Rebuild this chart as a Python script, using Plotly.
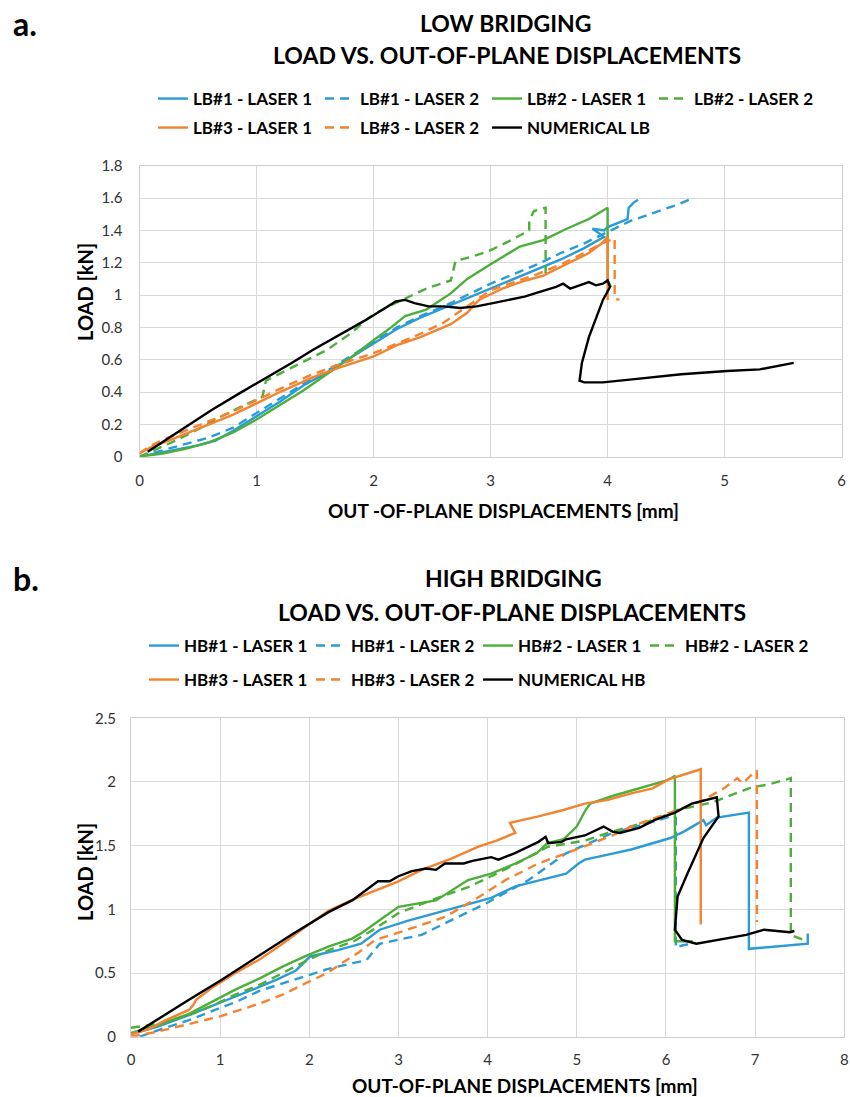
import plotly.graph_objects as go

# ---------------- DATA : panel a (Low bridging) ----------------
lb1_l1_x = [0, 0.15, 0.3, 0.5, 0.65, 0.8, 1.0, 1.2, 1.4, 1.6, 1.8, 2.0, 2.2, 2.4, 2.6, 2.8, 3.0, 3.2, 3.4, 3.6, 3.8, 3.97, 3.87, 3.97, 4.0, 4.1, 4.17, 4.18, 4.22, 4.26]
lb1_l1_y = [0.0, 0.02, 0.04, 0.07, 0.10, 0.16, 0.25, 0.34, 0.44, 0.52, 0.61, 0.70, 0.79, 0.86, 0.92, 0.98, 1.04, 1.10, 1.16, 1.22, 1.29, 1.36, 1.41, 1.40, 1.42, 1.45, 1.47, 1.54, 1.57, 1.59]

lb1_l2_x = [0, 0.2, 0.4, 0.6, 0.8, 1.0, 1.2, 1.4, 1.6, 1.8, 2.0, 2.2, 2.4, 2.6, 2.8, 3.0, 3.2, 3.4, 3.6, 3.8, 4.0, 4.2, 4.4, 4.6, 4.7]
lb1_l2_y = [0, 0.04, 0.08, 0.12, 0.18, 0.27, 0.36, 0.45, 0.53, 0.62, 0.71, 0.80, 0.87, 0.93, 1.00, 1.07, 1.13, 1.19, 1.26, 1.32, 1.39, 1.46, 1.51, 1.56, 1.59]

lb2_l1_x = [0, 0.2, 0.4, 0.6, 0.8, 1.0, 1.2, 1.4, 1.6, 1.8, 2.0, 2.15, 2.27, 2.45, 2.66, 2.8, 3.0, 3.25, 3.45, 3.65, 3.84, 4.0, 4.0, 4.03]
lb2_l1_y = [0, 0.02, 0.05, 0.09, 0.15, 0.23, 0.32, 0.41, 0.51, 0.61, 0.72, 0.80, 0.87, 0.91, 1.01, 1.10, 1.19, 1.30, 1.34, 1.41, 1.47, 1.54, 1.09, 1.05]

lb2_l2_x = [0, 0.15, 0.31, 0.5, 0.7, 0.9, 1.05, 1.08, 1.3, 1.6, 1.8, 1.96, 2.1, 2.27, 2.45, 2.66, 2.7, 2.85, 2.98, 3.15, 3.33, 3.33, 3.37, 3.47, 3.47, 3.5]
lb2_l2_y = [0, 0.05, 0.10, 0.17, 0.25, 0.32, 0.37, 0.47, 0.55, 0.66, 0.76, 0.86, 0.92, 0.98, 1.04, 1.09, 1.21, 1.24, 1.27, 1.33, 1.40, 1.46, 1.52, 1.54, 1.14, 1.12]

lb3_l1_x = [0, 0.1, 0.25, 0.42, 0.6, 0.8, 1.0, 1.2, 1.48, 1.7, 2.0, 2.2, 2.4, 2.66, 2.8, 2.9, 3.1, 3.3, 3.45, 3.65, 3.84, 3.95, 4.0, 4.0]
lb3_l1_y = [0.02, 0.06, 0.10, 0.15, 0.20, 0.26, 0.33, 0.40, 0.49, 0.55, 0.62, 0.69, 0.74, 0.82, 0.89, 0.97, 1.04, 1.09, 1.12, 1.19, 1.26, 1.32, 1.36, 0.97]

lb3_l2_x = [0, 0.1, 0.25, 0.42, 0.6, 0.8, 1.0, 1.2, 1.48, 1.7, 2.0, 2.2, 2.4, 2.6, 2.8, 3.0, 3.2, 3.4, 3.6, 3.8, 3.95, 4.06, 4.06, 4.1]
lb3_l2_y = [0.02, 0.07, 0.12, 0.17, 0.22, 0.28, 0.35, 0.42, 0.51, 0.57, 0.64, 0.70, 0.76, 0.83, 0.93, 1.03, 1.08, 1.13, 1.19, 1.26, 1.32, 1.35, 0.98, 0.97]

num_lb_x = [0.07, 0.3, 0.62, 0.85, 1.09, 1.3, 1.48, 1.7, 1.92, 2.1, 2.19, 2.27, 2.35, 2.47, 2.6, 2.74, 2.88, 3.02, 3.15, 3.29, 3.42, 3.56, 3.62, 3.68, 3.76, 3.84, 3.9, 3.96, 4.0, 4.02, 3.96, 3.84, 3.78, 3.76, 3.8, 3.96, 4.23, 4.63, 5.02, 5.3, 5.59]
num_lb_y = [0.03, 0.14, 0.29, 0.39, 0.49, 0.58, 0.66, 0.75, 0.84, 0.92, 0.96, 0.97, 0.95, 0.93, 0.93, 0.92, 0.93, 0.95, 0.97, 0.99, 1.02, 1.05, 1.07, 1.04, 1.06, 1.08, 1.06, 1.07, 1.09, 1.05, 0.97, 0.74, 0.58, 0.47, 0.46, 0.46, 0.48, 0.51, 0.53, 0.54, 0.58]

# ---------------- DATA : panel b (High bridging) ----------------
hb1_l1_x = [0, 0.3, 0.65, 0.9, 1.17, 1.4, 1.64, 1.85, 2.01, 2.32, 2.58, 2.79, 3.1, 3.52, 3.8, 4.04, 4.31, 4.6, 4.88, 5.02, 5.09, 5.35, 5.61, 6.05, 6.2, 6.42, 6.45, 6.57, 6.91, 6.93, 6.93, 7.59, 7.59]
hb1_l1_y = [0.02, 0.08, 0.17, 0.24, 0.31, 0.38, 0.45, 0.52, 0.63, 0.68, 0.73, 0.84, 0.91, 0.99, 1.04, 1.09, 1.18, 1.23, 1.28, 1.36, 1.39, 1.43, 1.47, 1.56, 1.61, 1.70, 1.66, 1.72, 1.76, 1.76, 0.69, 0.73, 0.81]

hb1_l2_x = [0.1, 0.3, 0.65, 0.9, 1.2, 1.44, 1.7, 1.96, 2.2, 2.5, 2.64, 2.79, 3.26, 3.52, 3.76, 3.99, 4.2, 4.46, 4.88, 5.4, 5.87, 6.05, 6.11, 6.11, 6.2, 6.29]
hb1_l2_y = [0.0, 0.05, 0.13, 0.20, 0.28, 0.36, 0.42, 0.48, 0.53, 0.58, 0.60, 0.73, 0.80, 0.89, 0.97, 1.05, 1.13, 1.23, 1.44, 1.60, 1.69, 1.73, 1.72, 0.70, 0.72, 0.73]

hb2_l1_x = [0, 0.3, 0.65, 0.9, 1.17, 1.45, 1.7, 1.95, 2.22, 2.48, 2.6, 2.74, 3.0, 3.42, 3.78, 4.04, 4.31, 4.55, 4.67, 4.85, 5.0, 5.09, 5.15, 5.4, 5.7, 6.0, 6.06, 6.1, 6.1, 6.3]
hb2_l1_y = [0.03, 0.09, 0.18, 0.27, 0.37, 0.46, 0.55, 0.63, 0.71, 0.77, 0.82, 0.89, 1.02, 1.07, 1.23, 1.28, 1.36, 1.44, 1.52, 1.55, 1.65, 1.77, 1.83, 1.89, 1.95, 2.01, 2.03, 2.05, 0.75, 0.75]

hb2_l2_x = [0, 0.3, 0.65, 0.9, 1.17, 1.45, 1.7, 1.95, 2.22, 2.5, 2.74, 3.0, 3.4, 3.8, 4.04, 4.3, 4.67, 5.09, 5.35, 5.61, 5.9, 6.13, 6.52, 6.97, 7.15, 7.4, 7.4, 7.54]
hb2_l2_y = [0.07, 0.10, 0.17, 0.24, 0.33, 0.41, 0.50, 0.59, 0.68, 0.75, 0.85, 0.97, 1.08, 1.18, 1.26, 1.35, 1.49, 1.54, 1.60, 1.65, 1.71, 1.78, 1.84, 1.96, 1.98, 2.03, 0.80, 0.76]

hb3_l1_x = [0, 0.2, 0.39, 0.55, 0.65, 0.7, 0.73, 0.9, 1.17, 1.45, 1.7, 1.95, 2.22, 2.5, 2.74, 3.0, 3.26, 3.6, 3.89, 4.1, 4.31, 4.25, 4.57, 4.85, 5.09, 5.35, 5.61, 5.85, 6.03, 6.2, 6.39, 6.39]
hb3_l1_y = [0.02, 0.06, 0.13, 0.18, 0.21, 0.25, 0.29, 0.38, 0.50, 0.61, 0.73, 0.86, 0.99, 1.08, 1.15, 1.22, 1.31, 1.40, 1.49, 1.54, 1.60, 1.68, 1.73, 1.78, 1.83, 1.86, 1.91, 1.95, 2.02, 2.06, 2.10, 0.88]

hb3_l2_x = [0, 0.3, 0.65, 1.0, 1.44, 1.7, 1.96, 2.2, 2.37, 2.55, 2.74, 3.1, 3.52, 3.84, 4.2, 4.57, 5.07, 5.4, 5.61, 5.9, 6.13, 6.4, 6.65, 6.8, 6.86, 6.98, 7.02, 7.02]
hb3_l2_y = [0.0, 0.04, 0.10, 0.16, 0.26, 0.33, 0.42, 0.50, 0.58, 0.66, 0.76, 0.84, 0.94, 1.07, 1.23, 1.36, 1.49, 1.58, 1.65, 1.72, 1.78, 1.85, 1.95, 2.03, 1.99, 2.07, 2.09, 0.90]

num_hb_x = [0.08, 0.35, 0.65, 1.0, 1.44, 1.8, 2.22, 2.48, 2.77, 2.9, 3.0, 3.15, 3.31, 3.42, 3.52, 3.73, 3.83, 4.04, 4.12, 4.3, 4.57, 4.65, 4.68, 4.83, 4.88, 5.09, 5.3, 5.4, 5.48, 5.7, 5.87, 6.1, 6.29, 6.45, 6.57, 6.59, 6.42, 6.24, 6.13, 6.1, 6.18, 6.34, 6.65, 6.9, 7.1, 7.25, 7.39, 7.44]
num_hb_y = [0.04, 0.16, 0.29, 0.44, 0.64, 0.80, 0.98, 1.07, 1.22, 1.22, 1.26, 1.30, 1.32, 1.31, 1.36, 1.36, 1.38, 1.41, 1.39, 1.44, 1.53, 1.57, 1.52, 1.53, 1.55, 1.58, 1.65, 1.61, 1.60, 1.64, 1.70, 1.76, 1.83, 1.86, 1.88, 1.73, 1.56, 1.28, 1.10, 0.84, 0.76, 0.73, 0.77, 0.80, 0.84, 0.83, 0.82, 0.83]

# tick values
top_x_ticks = [0, 1, 2, 3, 4, 5, 6]
top_y_ticks = [0, 0.2, 0.4, 0.6, 0.8, 1, 1.2, 1.4, 1.6, 1.8]
bot_x_ticks = [0, 1, 2, 3, 4, 5, 6, 7, 8]
bot_y_ticks = [0, 0.5, 1, 1.5, 2, 2.5]

# ---------------- STYLE ----------------
W, H = 850, 1097
def px(p): return p / W
def py(p): return 1 - p / H

BLUE = '#2B9BD6'
GREEN = '#4CAF3A'
ORANGE = '#F5822E'
BLACK = '#000000'
FONT = 'Lato'
DASH = '9px,6px'
LW = 2.4

fig = go.Figure()

top_series = [
    ("LB#1 - LASER 1", lb1_l1_x, lb1_l1_y, BLUE, 'solid', 'legend'),
    ("LB#1 - LASER 2", lb1_l2_x, lb1_l2_y, BLUE, DASH, 'legend'),
    ("LB#2 - LASER 1", lb2_l1_x, lb2_l1_y, GREEN, 'solid', 'legend'),
    ("LB#2 - LASER 2", lb2_l2_x, lb2_l2_y, GREEN, DASH, 'legend'),
    ("LB#3 - LASER 1", lb3_l1_x, lb3_l1_y, ORANGE, 'solid', 'legend2'),
    ("LB#3 - LASER 2", lb3_l2_x, lb3_l2_y, ORANGE, DASH, 'legend2'),
    ("NUMERICAL LB", num_lb_x, num_lb_y, BLACK, 'solid', 'legend2'),
]
bot_series = [
    ("HB#1 - LASER 1", hb1_l1_x, hb1_l1_y, BLUE, 'solid', 'legend3'),
    ("HB#1 - LASER 2", hb1_l2_x, hb1_l2_y, BLUE, DASH, 'legend3'),
    ("HB#2 - LASER 1", hb2_l1_x, hb2_l1_y, GREEN, 'solid', 'legend3'),
    ("HB#2 - LASER 2", hb2_l2_x, hb2_l2_y, GREEN, DASH, 'legend3'),
    ("HB#3 - LASER 1", hb3_l1_x, hb3_l1_y, ORANGE, 'solid', 'legend4'),
    ("HB#3 - LASER 2", hb3_l2_x, hb3_l2_y, ORANGE, DASH, 'legend4'),
    ("NUMERICAL HB", num_hb_x, num_hb_y, BLACK, 'solid', 'legend4'),
]

for name, xs, ys, col, dash, leg in top_series:
    fig.add_trace(go.Scatter(x=xs, y=ys, mode='lines', name=name, legend=leg,
                             line=dict(color=col, width=LW, dash=dash),
                             xaxis='x', yaxis='y'))
for name, xs, ys, col, dash, leg in bot_series:
    fig.add_trace(go.Scatter(x=xs, y=ys, mode='lines', name=name, legend=leg,
                             line=dict(color=col, width=LW, dash=dash),
                             xaxis='x2', yaxis='y2'))

tickfont = dict(family=FONT, size=15, color='#333333')
grid = '#d9d9d9'
axis_common = dict(showgrid=True, gridcolor=grid, gridwidth=1, zeroline=False,
                   showline=True, linecolor='#cfcfcf', linewidth=1, mirror=True,
                   ticks='', tickfont=tickfont, fixedrange=True, automargin=False)

legfont = dict(family=FONT, size=17, color='#000000', weight='bold')
def leg(x, y):
    return dict(orientation='h', x=px(x), xanchor='left', y=py(y), yanchor='middle',
                font=legfont, entrywidth=122, entrywidthmode='pixels',
                bgcolor='rgba(0,0,0,0)', itemwidth=30)

fig.update_layout(
    width=W, height=H,
    margin=dict(l=0, r=0, t=0, b=0, pad=0, autoexpand=False),
    paper_bgcolor='white', plot_bgcolor='white',
    xaxis=dict(domain=[px(139.5), px(841.7)], range=[0, 6], tickvals=top_x_ticks,
               anchor='y', ticklabelstandoff=10, **axis_common),
    yaxis=dict(domain=[py(456.7), py(165.7)], range=[0, 1.8], tickvals=top_y_ticks,
               anchor='x', ticklabelstandoff=13, **axis_common),
    xaxis2=dict(domain=[px(131), px(844.3)], range=[0, 8], tickvals=bot_x_ticks,
                anchor='y2', ticklabelstandoff=9, **axis_common),
    yaxis2=dict(domain=[py(1036.7), py(718.3)], range=[0, 2.5], tickvals=bot_y_ticks,
                anchor='x2', ticklabelstandoff=11, **axis_common),
    legend=leg(153, 99),
    legend2=leg(153, 128),
    legend3=leg(144, 646),
    legend4=leg(144, 680),
    showlegend=True,
)

def ann(text, x, y, size, bold=True, angle=0, xanchor='center'):
    fig.add_annotation(text=("<b>%s</b>" % text) if bold else text,
                       x=px(x), y=py(y), xref='paper', yref='paper',
                       xanchor=xanchor, yanchor='middle', showarrow=False, textangle=angle,
                       font=dict(family=FONT, size=size, color='#000000'))

# panel labels
ann("a.", 11, 23, 32, xanchor='left')
ann("b.", 11, 578, 32, xanchor='left')
# titles
ann("LOW BRIDGING", 505, 23, 23)
ann("LOAD VS. OUT-OF-PLANE DISPLACEMENTS", 507, 55, 23)
ann("HIGH BRIDGING", 513, 578, 23)
ann("LOAD VS. OUT-OF-PLANE DISPLACEMENTS", 512, 612, 23)
# axis titles
ann("OUT -OF-PLANE DISPLACEMENTS [mm]", 503, 510, 19)
ann("OUT-OF-PLANE DISPLACEMENTS [mm]", 525, 1085, 19)
ann("LOAD [kN]", 85, 292, 20, angle=-90)
ann("LOAD [kN]", 85, 872, 20, angle=-90)

fig.write_html("out.html",
               config={'displayModeBar': False},
               post_script="document.body.style.margin='0';document.body.style.padding='0';document.body.style.overflow='hidden';")
